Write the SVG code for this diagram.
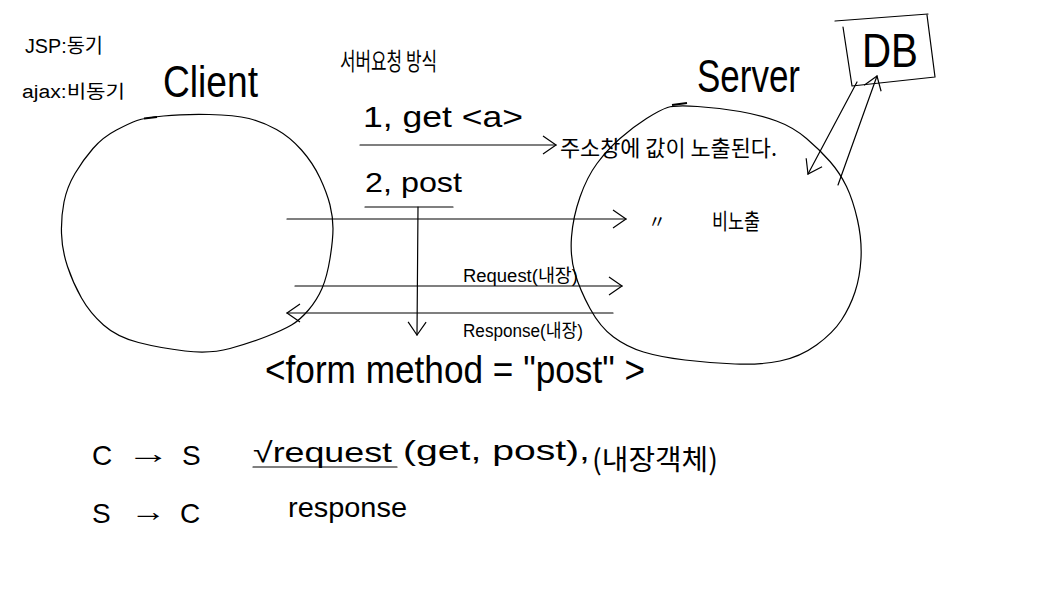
<svg xmlns="http://www.w3.org/2000/svg" width="1053" height="614" viewBox="0 0 1053 614">
<style>
  .ln{fill:none;stroke:#000;stroke-width:1.2;stroke-linecap:round;stroke-linejoin:round}
  .t{font-family:"Liberation Sans","Noto Sans CJK KR",sans-serif;fill:#000}
  .k{font-family:"Noto Sans CJK KR","Liberation Sans",sans-serif;fill:#000}
</style>
<defs>
  <marker id="ah" viewBox="-15 -11 17 22" refX="0" refY="0" markerWidth="17" markerHeight="22" orient="auto" markerUnits="userSpaceOnUse">
    <path d="M-13,-9 L0,0 L-13,9" fill="none" stroke="#000" stroke-width="1.2"/>
  </marker>
</defs>
<rect width="1053" height="614" fill="#fff"/>

<g id="notes">
  <text class="t" x="25" y="53" font-size="20" textLength="78" lengthAdjust="spacingAndGlyphs">JSP:동기</text>
  <text class="t" x="22" y="98" font-size="18" textLength="103" lengthAdjust="spacingAndGlyphs">ajax:비동기</text>
  <text class="k" x="340" y="70" font-size="24" textLength="97" lengthAdjust="spacingAndGlyphs">서버요청 방식</text>
  <text class="t" x="363" y="127" font-size="30" textLength="160" lengthAdjust="spacingAndGlyphs">1, get &lt;a&gt;</text>
  <text class="k" x="560" y="156" font-size="22" textLength="217" lengthAdjust="spacingAndGlyphs">주소창에 값이 노출된다.</text>
  <text class="t" x="365" y="192" font-size="28" textLength="97" lengthAdjust="spacingAndGlyphs">2, post</text>
  <line class="ln" x1="365" y1="207" x2="453" y2="207"/>
  <text class="k" x="648" y="228" font-size="18">〃</text>
  <text class="k" x="712" y="229" font-size="22" textLength="48" lengthAdjust="spacingAndGlyphs">비노출</text>
  <text class="t" x="463" y="282" font-size="18" textLength="115" lengthAdjust="spacingAndGlyphs">Request(내장)</text>
  <text class="t" x="463" y="337" font-size="18" textLength="120" lengthAdjust="spacingAndGlyphs">Response(내장)</text>
  <text class="t" x="265" y="383" font-size="38" textLength="380" lengthAdjust="spacingAndGlyphs">&lt;form method = "post" &gt;</text>
  <text class="t" x="92" y="465" font-size="28">C</text>
  <text class="t" x="126" y="463" font-size="28" textLength="44" lengthAdjust="spacingAndGlyphs">→</text>
  <text class="t" x="182" y="465" font-size="28">S</text>
  <text class="t" x="253" y="462" font-size="28" textLength="139" lengthAdjust="spacingAndGlyphs">√request</text>
  <line class="ln" x1="253" y1="467" x2="397" y2="467"/>
  <text class="t" x="403" y="460" font-size="28" textLength="187" lengthAdjust="spacingAndGlyphs">(get, post),</text>
  <text class="k" x="592" y="470" font-size="28" textLength="126" lengthAdjust="spacingAndGlyphs">(내장객체)</text>
  <text class="t" x="92" y="523" font-size="28">S</text>
  <text class="t" x="130" y="521" font-size="28" textLength="36" lengthAdjust="spacingAndGlyphs">→</text>
  <text class="t" x="180" y="523" font-size="28">C</text>
  <text class="t" x="288" y="517" font-size="28" textLength="119" lengthAdjust="spacingAndGlyphs">response</text>
</g>

<g id="client">
  <path class="ln" d="M163.5,116 Q183,114 209,114.5 Q235,115 249,118.5 Q263,122 276.5,129.5 Q290,137 301.5,150 Q313,163 320,178 Q327,193 330,205 Q333,217 333,228.5 Q333,240 330,258.5 Q327,277 322,288.5 Q317,300 308.5,310 Q300,320 291.5,325 Q283,330 266.5,336.5 Q250,343 230,348.5 Q210,354 185,351 Q160,348 138.5,342.5 Q117,337 103.5,325 Q90,313 81.5,298 Q73,283 67.5,266.5 Q62,250 61.5,233.5 Q61,217 64,202 Q67,187 75,173.5 Q83,160 93,148.5 Q103,137 116.5,130 Q130,123 137,120.5 Q144,118 163.5,116 Z"/>
  <line x1="144" y1="118.5" x2="157" y2="117" stroke="#000" stroke-width="1.8"/>
  <text class="t" x="163" y="97" font-size="44" textLength="95" lengthAdjust="spacingAndGlyphs">Client</text>
</g>

<g id="server">
  <path class="ln" d="M697.5,106.5 Q720,108 740,111.5 Q760,115 776.5,121 Q793,127 806.5,138.5 Q820,150 830,161.5 Q840,173 846.5,186.5 Q853,200 857.5,220 Q862,240 861,258.5 Q860,277 855,292 Q850,307 841.5,320 Q833,333 816.5,345 Q800,357 780,361 Q760,365 735,364 Q710,363 685,360 Q660,357 643.5,352 Q627,347 613.5,337 Q600,327 590,308.5 Q580,290 575,273.5 Q570,257 571.5,237 Q573,217 580,197 Q587,177 597,163.5 Q607,150 620,138.5 Q633,127 646.5,118.5 Q660,110 667.5,107.5 Q675,105 697.5,106.5 Z"/>
  <line x1="672" y1="105" x2="687" y2="103" stroke="#000" stroke-width="1.8"/>
  <text class="t" x="697" y="92" font-size="46" textLength="103" lengthAdjust="spacingAndGlyphs">Server</text>
</g>

<g id="db">
  <path class="ln" d="M835,21 L928,14 M843,27 L852,86 L935,77 M927,15 L935,77"/>
  <text class="t" x="862" y="67" font-size="48" textLength="56" lengthAdjust="spacingAndGlyphs">DB</text>
</g>

<g id="connectors">
  <line class="ln" x1="360" y1="145" x2="556" y2="145" marker-end="url(#ah)"/>
  <line class="ln" x1="287" y1="219" x2="626" y2="219" marker-end="url(#ah)"/>
  <line class="ln" x1="418" y1="207" x2="417" y2="335" marker-end="url(#ah)"/>
  <line class="ln" x1="295" y1="286" x2="622" y2="286" marker-end="url(#ah)"/>
  <line class="ln" x1="613" y1="313" x2="287" y2="313" marker-end="url(#ah)"/>
  <line class="ln" x1="857" y1="82" x2="808" y2="174" marker-end="url(#ah)"/>
  <line class="ln" x1="838" y1="185" x2="877" y2="76" marker-end="url(#ah)"/>
</g>
</svg>
